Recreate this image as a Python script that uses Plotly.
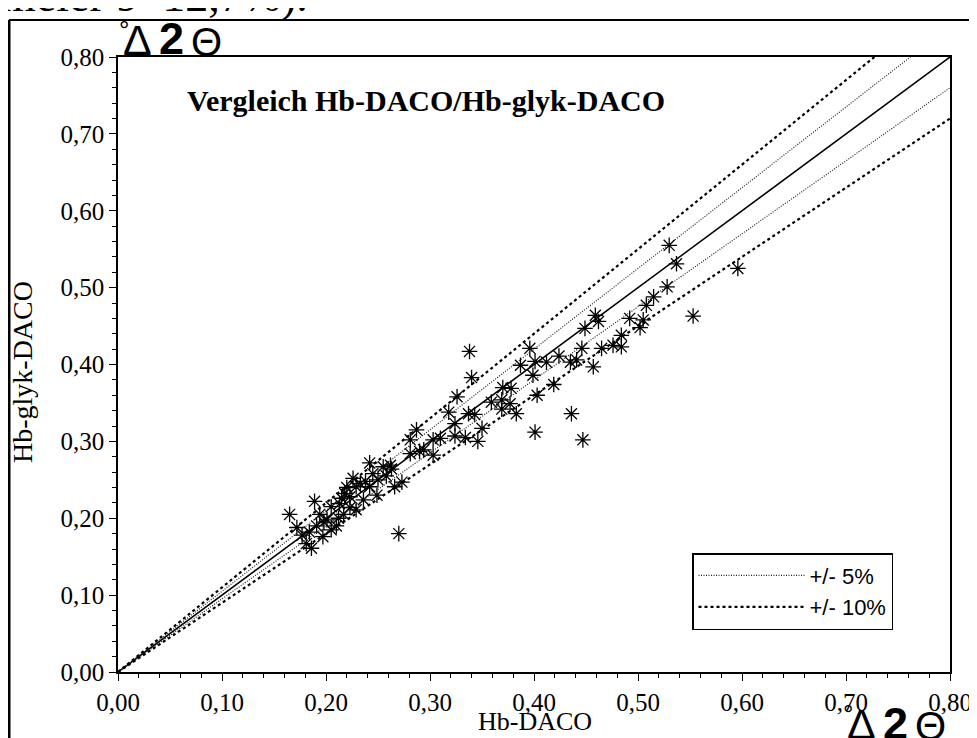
import plotly.graph_objects as go

# ---- data ----
hb_daco = [
    0.165, 0.172, 0.177, 0.181, 0.186, 0.184, 0.189, 0.191, 0.194, 0.197, 0.198,
    0.201, 0.205, 0.205, 0.210, 0.212, 0.213, 0.215, 0.217, 0.218, 0.220, 0.223,
    0.223, 0.226, 0.229, 0.229, 0.233, 0.236, 0.238, 0.242, 0.242, 0.245, 0.249,
    0.250, 0.255, 0.258, 0.262, 0.263, 0.266, 0.270, 0.273, 0.281, 0.281, 0.287,
    0.290, 0.294, 0.303, 0.303, 0.310, 0.318, 0.324, 0.324, 0.326, 0.334, 0.337,
    0.338, 0.340, 0.343, 0.346, 0.350, 0.359, 0.369, 0.369, 0.370, 0.377, 0.378,
    0.383, 0.387, 0.396, 0.399, 0.401, 0.401, 0.403, 0.412, 0.419, 0.424, 0.435,
    0.436, 0.441, 0.446, 0.447, 0.449, 0.457, 0.459, 0.462, 0.465, 0.476, 0.484,
    0.484, 0.492, 0.502, 0.505, 0.508, 0.515, 0.528, 0.530, 0.537, 0.553, 0.596,
]
hb_glyk_daco = [
    0.205, 0.188, 0.178, 0.167, 0.161, 0.182, 0.222, 0.190, 0.205, 0.176, 0.195,
    0.198, 0.185, 0.215, 0.190, 0.200, 0.219, 0.226, 0.205, 0.232, 0.240, 0.214,
    0.228, 0.252, 0.211, 0.241, 0.245, 0.224, 0.248, 0.241, 0.272, 0.258, 0.230,
    0.250, 0.267, 0.255, 0.269, 0.264, 0.241, 0.180, 0.247, 0.302, 0.284, 0.315,
    0.287, 0.289, 0.302, 0.282, 0.304, 0.338, 0.323, 0.307, 0.358, 0.305, 0.336,
    0.417, 0.383, 0.335, 0.300, 0.317, 0.351, 0.354, 0.342, 0.370, 0.349, 0.369,
    0.336, 0.399, 0.421, 0.386, 0.404, 0.312, 0.360, 0.403, 0.374, 0.411, 0.403,
    0.336, 0.406, 0.421, 0.302, 0.447, 0.397, 0.464, 0.456, 0.421, 0.425, 0.423,
    0.438, 0.460, 0.448, 0.458, 0.477, 0.488, 0.501, 0.555, 0.531, 0.463, 0.525,
]
line_x = [0.0, 0.8]
tick_vals = [0.0, 0.1, 0.2, 0.3, 0.4, 0.5, 0.6, 0.7, 0.8]
tick_text = ["0,00", "0,10", "0,20", "0,30", "0,40", "0,50", "0,60", "0,70", "0,80"]

SERIF = "Liberation Serif"
SANS = "Liberation Sans"

fig = go.Figure()

fig.add_trace(go.Scatter(
    x=hb_daco, y=hb_glyk_daco, mode="markers", showlegend=False,
    marker=dict(symbol="asterisk-open", size=13, color="black",
                line=dict(color="black", width=1.3)),
))

fig.add_trace(go.Scatter(x=line_x, y=[v * 1.0 for v in line_x], mode="lines",
                         showlegend=False, line=dict(color="black", width=1.5)))
fig.add_trace(go.Scatter(x=line_x, y=[v * 1.05 for v in line_x], mode="lines",
                         name="+/- 5%", legendgroup="5",
                         line=dict(color="#222222", width=1.2, dash="1px,1.5px")))
fig.add_trace(go.Scatter(x=line_x, y=[v * 0.95 for v in line_x], mode="lines",
                         showlegend=False, legendgroup="5",
                         line=dict(color="#222222", width=1.2, dash="1px,1.5px")))
fig.add_trace(go.Scatter(x=line_x, y=[v * 1.10 for v in line_x], mode="lines",
                         name="+/- 10%", legendgroup="10",
                         line=dict(color="black", width=2.2, dash="3px,3px")))
fig.add_trace(go.Scatter(x=line_x, y=[v * 0.90 for v in line_x], mode="lines",
                         showlegend=False, legendgroup="10",
                         line=dict(color="black", width=2.2, dash="3px,3px")))

axis_common = dict(
    range=[0, 0.8], tickvals=tick_vals, ticktext=tick_text,
    showgrid=False, zeroline=False, showline=True, linecolor="black", linewidth=1.5,
    mirror=True, ticks="outside", ticklen=7, tickwidth=1.3, tickcolor="black",
    tickfont=dict(family=SERIF, size=25, color="black"),
    minor=dict(dtick=0.02, ticks="outside", ticklen=4, tickwidth=1, tickcolor="black"),
)
fig.update_xaxes(**axis_common)
fig.update_yaxes(**axis_common)

# page offset (body margin) and plot area in page pixels
OFF = 8
L, R, T, B = 118, 950, 57, 672
def px(x):
    return (x - L) / (R - L)
def py(y):
    return (B - y) / (B - T)

def ann(text, x, y, size, family=SERIF, xanchor="left", yanchor="middle", **kw):
    return dict(text=text, x=px(x), y=py(y), xref="paper", yref="paper",
                xanchor=xanchor, yanchor=yanchor, showarrow=False,
                font=dict(family=family, size=size, color="black"), **kw)

annotations = [
    ann("<b>Vergleich Hb-DACO/Hb-glyk-DACO</b>", 185, 100, 30),
    ann("Hb-DACO", 535, 721, 26, xanchor="center"),
    ann("Hb-glyk-DACO", 22, 372, 28, xanchor="center", textangle=-90),
    ann("meier 9–12,7%).", -2, 23, 46, yanchor="bottom"),
]
# degree / Delta / 2 / Theta unit labels (top-left and bottom-right)
for x0, yb in [(123, 40), (847, 724)]:
    annotations += [
        ann("°", x0 - 6, yb - 10, 26, family=SANS),
        ann("Δ", x0 - 2, yb, 43, family=SANS),
        ann("<b>2</b>", x0 + 34, yb - 1, 45, family=SANS),
        ann("Θ", x0 + 66, yb + 2, 40, family=SANS),
    ]

shapes = [
    dict(type="line", xref="paper", yref="paper", x0=px(9), x1=px(9), y0=py(20), y1=py(760),
         line=dict(color="black", width=3)),
    dict(type="line", xref="paper", yref="paper", x0=px(9), x1=px(970), y0=py(20), y1=py(20),
         line=dict(color="black", width=2)),
    dict(type="line", xref="paper", yref="paper", x0=px(970), x1=px(970), y0=py(20), y1=py(760),
         line=dict(color="black", width=2)),
]

fig.update_layout(
    width=977, height=738,
    margin=dict(l=L - OFF, r=977 - R + OFF, t=T - OFF, b=738 - B + OFF),
    paper_bgcolor="white", plot_bgcolor="white",
    separators=",.",
    annotations=annotations, shapes=shapes,
    legend=dict(x=px(893), y=py(553), xanchor="right", yanchor="top",
                bordercolor="black", borderwidth=1.5, bgcolor="white",
                font=dict(family=SANS, size=22, color="black"),
                itemwidth=106, tracegroupgap=0),
)

fig.write_html("out.html")
